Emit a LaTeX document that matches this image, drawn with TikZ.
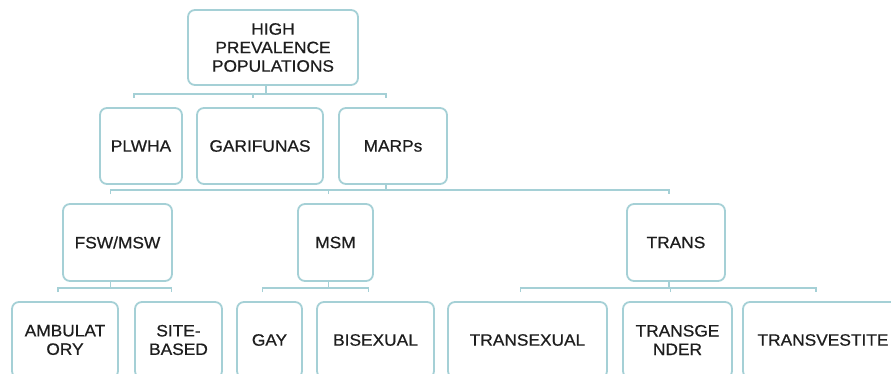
\documentclass[tikz,border=0pt]{standalone}
\usepackage{fontspec}
\setmainfont{Liberation Sans}[FakeStretch=1.05,FakeBold=0.6]
\usepackage{tikz}
\definecolor{boxline}{RGB}{165,208,214}
\definecolor{boxtext}{RGB}{30,30,30}

\begin{document}
\begin{tikzpicture}[x=1pt,y=1pt,
  box/.style={rectangle,draw=boxline,line width=1.8pt,rounded corners=7pt,
    align=center,text=boxtext,inner sep=0pt,
    font=\fontsize{16.5}{18.5}\selectfont},
  link/.style={draw=boxline,line width=1.8pt}]
\useasboundingbox[fill=white] (0,0) rectangle (891,-374);
\node [box,minimum width=170,minimum height=75] (top) at (273,-47.5) {HIGH\\PREVALENCE\\POPULATIONS};
\node [box,minimum width=82,minimum height=76] (plwha) at (141,-146) {PLWHA};
\node [box,minimum width=126,minimum height=76] (gari) at (260,-146) {GARIFUNAS};
\node [box,minimum width=108,minimum height=76] (marps) at (393,-146) {MARPs};
\node [box,minimum width=109,minimum height=77] (fsw) at (117.5,-242.5) {FSW/MSW};
\node [box,minimum width=75,minimum height=77] (msm) at (335.5,-242.5) {MSM};
\node [box,minimum width=98,minimum height=77] (trans) at (676,-242.5) {TRANS};
\node [box,minimum width=106,minimum height=76] (amb) at (65,-340) {AMBULAT\\ORY};
\node [box,minimum width=87,minimum height=76] (site) at (178.5,-340) {SITE-\\BASED};
\node [box,minimum width=65,minimum height=76] (gay) at (269.5,-340) {GAY};
\node [box,minimum width=117,minimum height=76] (bisex) at (375.5,-340) {BISEXUAL};
\node [box,minimum width=159,minimum height=76] (transex) at (527.5,-340) {TRANSEXUAL};
\node [box,minimum width=109,minimum height=76] (transg) at (677.5,-340) {TRANSGE\\NDER};
\node [box,minimum width=160,minimum height=76] (transv) at (823,-340) {TRANSVESTITE};
% brackets
\foreach \p/\a/\b in {top/plwha/marps,marps/fsw/trans,fsw/amb/site,msm/gay/bisex,trans/transex/transv}{
  \draw[link] ([xshift=-7pt,yshift=9pt]\a.north) -- ++(0,4) coordinate (bar)
    -| ([xshift=-7pt,yshift=9pt]\b.north);
  \draw[link] ([xshift=-7pt]\p.south) -- ([xshift=-7pt]\p.south |- bar);
}
\foreach \c in {gari,msm,transg}
  \draw[link] ([xshift=-7pt,yshift=9pt]\c.north) -- ++(0,4);
\end{tikzpicture}
\end{document}
